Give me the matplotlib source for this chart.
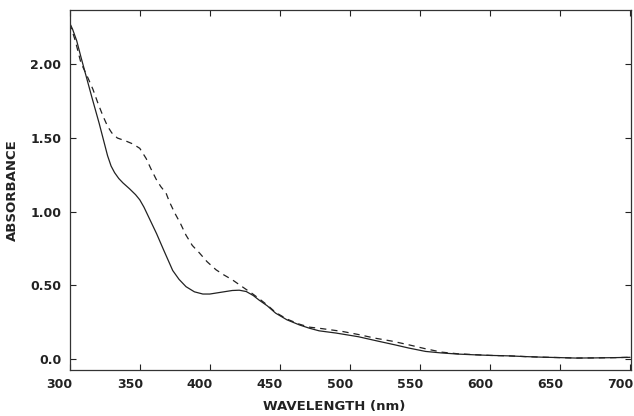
import matplotlib
matplotlib.use("Agg")
import matplotlib.pyplot as plt
import matplotlib.transforms as mtransforms

# Solid curve (wavelength nm, absorbance)
solid_wl = [300, 302, 305, 308, 312, 316, 321, 324, 327, 329.5, 332, 335, 338, 342.7, 347, 350, 353, 357,
            362, 367, 373.5, 378, 383, 389, 395, 400, 404, 410, 416, 421, 426, 431, 435, 441, 447,
            455, 464, 471, 478, 490, 506, 520, 532, 542, 554, 565, 577, 589, 600, 613, 625, 637,
            650, 661, 675, 690, 700]
solid_abs = [2.28, 2.24, 2.16, 2.05, 1.91, 1.77, 1.60, 1.49, 1.38, 1.31, 1.265, 1.225, 1.195, 1.155, 1.115, 1.08, 1.03, 0.95,
             0.85, 0.74, 0.60, 0.54, 0.49, 0.455, 0.44, 0.44, 0.446, 0.455, 0.464, 0.466, 0.457, 0.43, 0.40, 0.36, 0.31,
             0.265, 0.23, 0.208, 0.19, 0.175, 0.15, 0.12, 0.095, 0.073, 0.05, 0.04, 0.032, 0.027, 0.023, 0.02, 0.015, 0.011,
             0.008, 0.005, 0.006, 0.008, 0.01]

# Dashed curve
dashed_wl = [300, 304, 308, 312, 316.6, 320, 323.7, 327, 330, 334, 340, 345, 350, 354.6, 358, 361.7,
             365, 368.8, 371, 375, 379, 383, 387.5, 392.5, 398, 404.4, 410, 416, 424.6, 430, 435, 441, 447,
             455, 464, 471, 480, 494.5, 506, 518, 530, 542, 554, 565.6, 577, 589, 600, 613, 625, 637,
             650, 661, 675, 690, 700]
dashed_abs = [2.28, 2.16, 2.01, 1.93, 1.83, 1.74, 1.65, 1.58, 1.535, 1.50, 1.48, 1.46, 1.43, 1.36, 1.29, 1.22,
              1.17, 1.125, 1.07, 0.99, 0.92, 0.84, 0.77, 0.72, 0.66, 0.605, 0.57, 0.537, 0.48, 0.445, 0.41, 0.365, 0.315,
              0.27, 0.235, 0.215, 0.205, 0.186, 0.165, 0.14, 0.12, 0.095, 0.068, 0.045, 0.034, 0.028, 0.023, 0.02, 0.015, 0.011,
              0.008, 0.005, 0.006, 0.008, 0.01]

x_ticks = [300, 350, 400, 450, 500, 550, 600, 650, 700]
x_ticklabels = ["300", "350", "400", "450", "500", "550", "600", "650", "700"]
y_ticks = [0.0, 0.5, 1.0, 1.5, 2.0]
y_ticklabels = ["0.0", "0.50", "1.00", "1.50", "2.00"]

fig = plt.figure(figsize=(6.34, 4.16), dpi=100)
ax = fig.add_axes([0.110, 0.111, 0.886, 0.865])

ax.plot(solid_wl, solid_abs, color="#222222", lw=0.9, solid_capstyle="round")
ax.plot(dashed_wl, dashed_abs, color="#222222", lw=0.9, linestyle=(0, (5, 4)))

ax.set_xlim(300, 701)
ax.set_ylim(-0.075, 2.37)
ax.set_xticks(x_ticks)
ax.set_xticklabels(x_ticklabels)
ax.set_yticks(y_ticks)
ax.set_yticklabels(y_ticklabels)

ax.tick_params(direction="in", length=4, width=0.8, top=True, right=True,
               labelsize=9, colors="#222222", pad=6)
for s in ax.spines.values():
    s.set_linewidth(0.9)
    s.set_color("#333333")

shift = mtransforms.ScaledTranslation(-10 / 100, 0, fig.dpi_scale_trans)
for lab in ax.get_xticklabels():
    lab.set_fontweight("bold")
    lab.set_transform(lab.get_transform() + shift)
for lab in ax.get_yticklabels():
    lab.set_fontweight("bold")

ax.set_xlabel("WAVELENGTH (nm)", fontsize=9.5, fontweight="bold", color="#222222", labelpad=6)
ax.xaxis.set_label_coords(0.47, -0.085)
ax.set_ylabel("ABSORBANCE", fontsize=9.5, fontweight="bold", color="#222222", labelpad=8)

fig.savefig("out.png", dpi=100)
